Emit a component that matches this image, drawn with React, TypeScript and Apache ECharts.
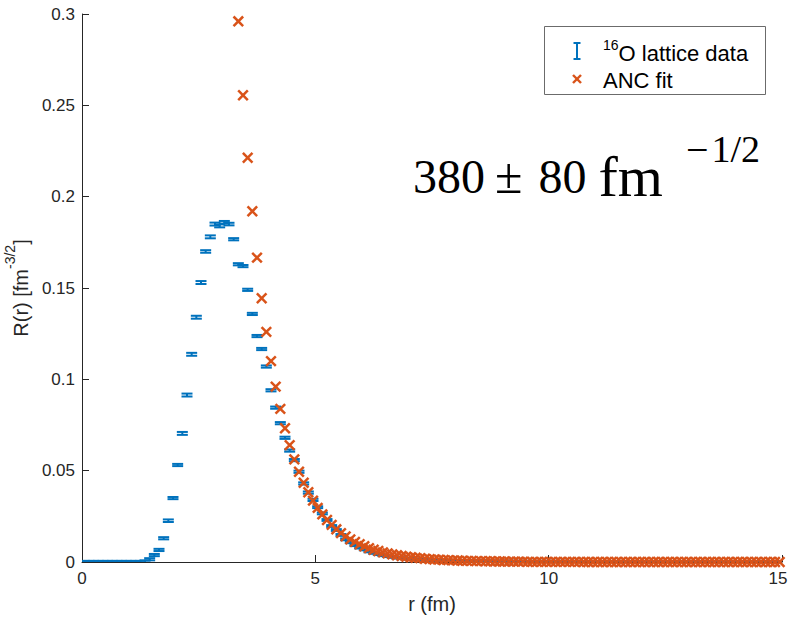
import React, { useEffect, useRef } from "react";
import * as echarts from "echarts";

// radial grid (fm), bin centres
const rGrid = [
  0.05, 0.15, 0.25, 0.35, 0.45, 0.55, 0.65, 0.75, 0.85, 0.95,
  1.05, 1.15, 1.25, 1.35, 1.45, 1.55, 1.65, 1.75, 1.85, 1.95,
  2.05, 2.15, 2.25, 2.35, 2.45, 2.55, 2.65, 2.75, 2.85, 2.95,
  3.05, 3.15, 3.25, 3.35, 3.45, 3.55, 3.65, 3.75, 3.85, 3.95,
  4.05, 4.15, 4.25, 4.35, 4.45, 4.55, 4.65, 4.75, 4.85, 4.95,
  5.05, 5.15, 5.25, 5.35, 5.45, 5.55, 5.65, 5.75, 5.85, 5.95,
  6.05, 6.15, 6.25, 6.35, 6.45, 6.55, 6.65, 6.75, 6.85, 6.95,
  7.05, 7.15, 7.25, 7.35, 7.45, 7.55, 7.65, 7.75, 7.85, 7.95,
  8.05, 8.15, 8.25, 8.35, 8.45, 8.55, 8.65, 8.75, 8.85, 8.95,
  9.05, 9.15, 9.25, 9.35, 9.45, 9.55, 9.65, 9.75, 9.85, 9.95,
  10.05, 10.15, 10.25, 10.35, 10.45, 10.55, 10.65, 10.75, 10.85, 10.95,
  11.05, 11.15, 11.25, 11.35, 11.45, 11.55, 11.65, 11.75, 11.85, 11.95,
  12.05, 12.15, 12.25, 12.35, 12.45, 12.55, 12.65, 12.75, 12.85, 12.95,
  13.05, 13.15, 13.25, 13.35, 13.45, 13.55, 13.65, 13.75, 13.85, 13.95,
  14.05, 14.15, 14.25, 14.35, 14.45, 14.55, 14.65, 14.75, 14.85, 14.95,
];

// 16O lattice data R(r)
const latticeR = [
  0, 0, 0, 0, 0, 0, 0, 0, 0, 0,
  0, 0, 0, 0.0003, 0.0015, 0.0038, 0.0066, 0.013, 0.0226, 0.035,
  0.0531, 0.0704, 0.0914, 0.1137, 0.134, 0.153, 0.17, 0.178, 0.185, 0.184,
  0.186, 0.185, 0.1767, 0.163, 0.162, 0.149, 0.1358, 0.1237, 0.1166, 0.107,
  0.094, 0.0845, 0.076, 0.068, 0.061, 0.0558, 0.0494, 0.043, 0.038, 0.034,
  0.03, 0.0266, 0.023, 0.0197, 0.0175, 0.0148, 0.0124, 0.0108, 0.0092, 0.0079,
  0.0069, 0.0058, 0.005, 0.0043, 0.0037, 0.0032, 0.0028, 0.0024, 0.0021, 0.0018,
  0.0016, 0.0014, 0.0012, 0.0011, 0.001, 0.0009, 0.0008, 0.0007, 0.0006, 0.0006,
  0.0005, 0.0005, 0.0004, 0.0004, 0.0003, 0.0003, 0.0003, 0.0002, 0.0002, 0.0002,
  0.0002, 0.0002, 0.0001, 0.0001, 0.0001, 0.0001, 0.0001, 0.0001, 0.0001, 0.0001,
  0.0001, 0.0001, 0.0001, 0.0001, 0.0001, 0, 0, 0, 0, 0,
  0, 0, 0, 0, 0, 0, 0, 0, 0, 0,
  0, 0, 0, 0, 0, 0, 0, 0, 0, 0,
  0, 0, 0, 0, 0, 0, 0, 0, 0, 0,
  0, 0, 0, 0, 0, 0, 0, 0, 0, 0,
];

// half-size of the error bars
const latticeErr = [
  0.0006, 0.0006, 0.0006, 0.0006, 0.0006, 0.0006, 0.0006, 0.0006, 0.0006, 0.0006,
  0.0006, 0.0006, 0.0006, 0.0006, 0.0006, 0.0006, 0.0006, 0.0006, 0.0007, 0.0006,
  0.0006, 0.0008, 0.0008, 0.0008, 0.0008, 0.0008, 0.0007, 0.0008, 0.0008, 0.0008,
  0.0007, 0.0007, 0.0006, 0.0006, 0.0006, 0.0006, 0.0006, 0.0006, 0.0006, 0.0006,
  0.0006, 0.0006, 0.0006, 0.0006, 0.0006, 0.0006, 0.0006, 0.0006, 0.0006, 0.0006,
  0.0005, 0.0005, 0.0005, 0.0005, 0.0005, 0.0005, 0.0005, 0.0005, 0.0005, 0.0005,
  0.0005, 0.0005, 0.0005, 0.0005, 0.0005, 0.0005, 0.0005, 0.0005, 0.0005, 0.0005,
  0.0005, 0.0005, 0.0005, 0.0005, 0.0005, 0.0005, 0.0005, 0.0005, 0.0005, 0.0005,
  0.0005, 0.0005, 0.0005, 0.0005, 0.0005, 0.0005, 0.0005, 0.0005, 0.0005, 0.0005,
  0.0005, 0.0005, 0.0005, 0.0005, 0.0005, 0.0005, 0.0005, 0.0005, 0.0005, 0.0005,
  0.0005, 0.0005, 0.0005, 0.0005, 0.0005, 0.0005, 0.0005, 0.0005, 0.0005, 0.0005,
  0.0005, 0.0005, 0.0005, 0.0005, 0.0005, 0.0005, 0.0005, 0.0005, 0.0005, 0.0005,
  0.0005, 0.0005, 0.0005, 0.0005, 0.0005, 0.0005, 0.0005, 0.0005, 0.0005, 0.0005,
  0.0005, 0.0005, 0.0005, 0.0005, 0.0005, 0.0005, 0.0005, 0.0005, 0.0005, 0.0005,
  0.0005, 0.0005, 0.0005, 0.0005, 0.0005, 0.0005, 0.0005, 0.0005, 0.0005, 0.0005,
];

// ANC fit, starting at r = 3.35 fm (index 33 of rGrid)
const ancStart = 33;
const ancR = [
  0.296, 0.2555, 0.2213, 0.192, 0.1666, 0.1444, 0.126,
  0.11, 0.096, 0.0838, 0.0732, 0.064, 0.0562, 0.0494, 0.0434, 0.0382, 0.0336,
  0.0296, 0.0261, 0.023, 0.0203, 0.0179, 0.0158, 0.014, 0.0124, 0.011, 0.0097,
  0.0086, 0.0076, 0.0067, 0.006, 0.0053, 0.0047, 0.0042, 0.0037, 0.0033, 0.0029,
  0.0026, 0.0023, 0.0021, 0.0018, 0.0016, 0.0014, 0.0013, 0.0011, 0.001, 0.0009,
  0.0008, 0.0007, 0.0006, 0.0006, 0.0005, 0.0005, 0.0004, 0.0004, 0.0003, 0.0003,
  0.0003, 0.0002, 0.0002, 0.0002, 0.0002, 0.0001, 0.0001, 0.0001, 0.0001, 0.0001,
  0.0001, 0.0001, 0.0001, 0.0001, 0.0001, 0.0001, 0.0001, 0, 0, 0,
  0, 0, 0, 0, 0, 0, 0, 0, 0, 0,
  0, 0, 0, 0, 0, 0, 0, 0, 0, 0,
  0, 0, 0, 0, 0, 0, 0, 0, 0, 0,
  0, 0, 0, 0, 0, 0, 0, 0, 0, 0,
];

const legendLabels = ["O lattice data", "ANC fit"];
const legendSup = "16";

const BLUE = "#0072BD";
const ORANGE = "#D95319";
const AXIS = "#262626";

export default function App() {
  const ref = useRef<HTMLDivElement>(null);

  useEffect(() => {
    if (!ref.current) return;
    const chart = echarts.init(ref.current, null, { renderer: "svg" });

    const latticeData = rGrid.map((r, i) => [r, latticeR[i], latticeErr[i]]);
    const ancData = ancR.map((v, i) => [rGrid[ancStart + i], v]);

    const serif = "Liberation Serif";

    const option = {
      animation: false,
      backgroundColor: "#ffffff",
      grid: { left: 82, top: 14, width: 700, height: 548, containLabel: false, outerBoundsMode: "none" },
      xAxis: {
        type: "value",
        min: 0,
        max: 15,
        interval: 5,
        name: "r (fm)",
        nameLocation: "middle",
        nameGap: 32,
        nameTextStyle: { color: AXIS, fontSize: 20, fontFamily: "Liberation Sans" },
        axisLine: { show: true, onZero: false, lineStyle: { color: AXIS, width: 1 } },
        axisTick: { show: true, inside: true, length: 7, lineStyle: { color: AXIS, width: 1 } },
        axisLabel: {
          color: AXIS,
          fontSize: 17,
          margin: 8,
          fontFamily: "Liberation Sans",
          formatter: (v: number) => (v === 15 ? "{e|15}" : String(v)),
          rich: {
            e: { fontSize: 17, color: AXIS, fontFamily: "Liberation Sans", padding: [0, 8, 0, 0] },
          },
        },
        splitLine: { show: false },
      },
      yAxis: {
        type: "value",
        min: 0,
        max: 0.3,
        interval: 0.05,
        name: "{a|R(r) [fm}{b|-3/2}{a|]}",
        nameLocation: "middle",
        nameRotate: 90,
        nameGap: 36,
        nameTextStyle: {
          color: AXIS,
          fontFamily: "Liberation Sans",
          rich: {
            a: { fontSize: 20, lineHeight: 28, color: AXIS, fontFamily: "Liberation Sans", verticalAlign: "bottom" },
            b: { fontSize: 14, lineHeight: 14, color: AXIS, fontFamily: "Liberation Sans", verticalAlign: "top" },
          },
        },
        axisLine: { show: true, onZero: false, lineStyle: { color: AXIS, width: 1 } },
        axisTick: { show: true, inside: true, length: 7, lineStyle: { color: AXIS, width: 1 } },
        axisLabel: {
          color: AXIS,
          fontSize: 17,
          margin: 7,
          fontFamily: "Liberation Sans",
          formatter: (v: number) => String(parseFloat(v.toFixed(2))),
        },
        splitLine: { show: false },
      },
      series: [
        {
          type: "custom",
          name: "lattice",
          clip: true,
          data: latticeData,
          encode: { x: 0, y: 1 },
          renderItem: (params: any, api: any) => {
            const x = api.value(0);
            const y = api.value(1);
            const e = api.value(2);
            const c = api.coord([x, y]);
            const t = api.coord([x, y + e]);
            const b = api.coord([x, y - e]);
            const hw = 5.5;
            const style = { stroke: BLUE, lineWidth: 2, fill: null };
            return {
              type: "group",
              children: [
                { type: "line", shape: { x1: c[0], y1: t[1], x2: c[0], y2: b[1] }, style },
                { type: "line", shape: { x1: c[0] - hw, y1: t[1], x2: c[0] + hw, y2: t[1] }, style },
                { type: "line", shape: { x1: c[0] - hw, y1: b[1], x2: c[0] + hw, y2: b[1] }, style },
              ],
            };
          },
        },
        {
          type: "custom",
          name: "anc",
          clip: false,
          data: ancData,
          encode: { x: 0, y: 1 },
          renderItem: (params: any, api: any) => {
            const c = api.coord([api.value(0), api.value(1)]);
            const h = 4.8;
            const style = { stroke: ORANGE, lineWidth: 2.5, fill: null };
            return {
              type: "group",
              children: [
                { type: "line", shape: { x1: c[0] - h, y1: c[1] - h, x2: c[0] + h, y2: c[1] + h }, style },
                { type: "line", shape: { x1: c[0] - h, y1: c[1] + h, x2: c[0] + h, y2: c[1] - h }, style },
              ],
            };
          },
        },
      ],
      graphic: [
        {
          type: "rect",
          z: 100,
          shape: { x: 544.5, y: 26.5, width: 221, height: 68 },
          style: { fill: "#ffffff", stroke: "#6b6b6b", lineWidth: 1 },
        },
        { type: "line", z: 101, shape: { x1: 577, y1: 43, x2: 577, y2: 59 }, style: { stroke: BLUE, lineWidth: 2 } },
        { type: "line", z: 101, shape: { x1: 573.5, y1: 43, x2: 580.5, y2: 43 }, style: { stroke: BLUE, lineWidth: 2 } },
        { type: "line", z: 101, shape: { x1: 573.5, y1: 59, x2: 580.5, y2: 59 }, style: { stroke: BLUE, lineWidth: 2 } },
        {
          type: "text",
          z: 101,
          x: 603,
          y: 51,
          style: {
            text: "{s|" + legendSup + "}{m|" + legendLabels[0] + "}",
            align: "left",
            verticalAlign: "middle",
            rich: {
              s: { fontSize: 14, lineHeight: 14, verticalAlign: "top", fill: "#000", fontFamily: "Liberation Sans" },
              m: { fontSize: 22, lineHeight: 26, verticalAlign: "bottom", fill: "#000", fontFamily: "Liberation Sans" },
            },
          },
        },
        { type: "line", z: 101, shape: { x1: 573, y1: 75, x2: 581, y2: 83 }, style: { stroke: ORANGE, lineWidth: 2.4 } },
        { type: "line", z: 101, shape: { x1: 573, y1: 83, x2: 581, y2: 75 }, style: { stroke: ORANGE, lineWidth: 2.4 } },
        {
          type: "text",
          z: 101,
          x: 603,
          y: 80,
          style: {
            text: legendLabels[1],
            align: "left",
            verticalAlign: "middle",
            fill: "#000",
            fontSize: 22,
            fontFamily: "Liberation Sans",
          },
        },
        {
          type: "text",
          z: 101,
          x: 413,
          y: 176,
          style: {
            text: "{n|380}{op|±}{n2|80}{u|fm}",
            align: "left",
            verticalAlign: "middle",
            rich: {
              n: { fontSize: 48, lineHeight: 64, fill: "#000", fontFamily: serif },
              op: { fontSize: 50, lineHeight: 64, fill: "#000", fontFamily: serif, padding: [0, 0, 0, 10] },
              n2: { fontSize: 48, lineHeight: 64, fill: "#000", fontFamily: serif, padding: [0, 0, 0, 16] },
              u: { fontSize: 58, lineHeight: 64, fill: "#000", fontFamily: serif, padding: [0, 0, 0, 12] },
            },
          },
        },
        {
          type: "text",
          z: 101,
          x: 686,
          y: 149,
          style: {
            text: "{m|−}{d|1/2}",
            align: "left",
            verticalAlign: "middle",
            rich: {
              m: { fontSize: 40, lineHeight: 44, fill: "#000", fontFamily: serif, padding: [0, 3, 0, 0] },
              d: { fontSize: 38, lineHeight: 44, fill: "#000", fontFamily: serif },
            },
          },
        },
      ],
    };

    chart.setOption(option as any);
    return () => chart.dispose();
  }, []);

  return (
    <div
      ref={ref}
      style={{ position: "fixed", left: 0, top: 0, width: 788, height: 620, background: "#fff" }}
    />
  );
}
